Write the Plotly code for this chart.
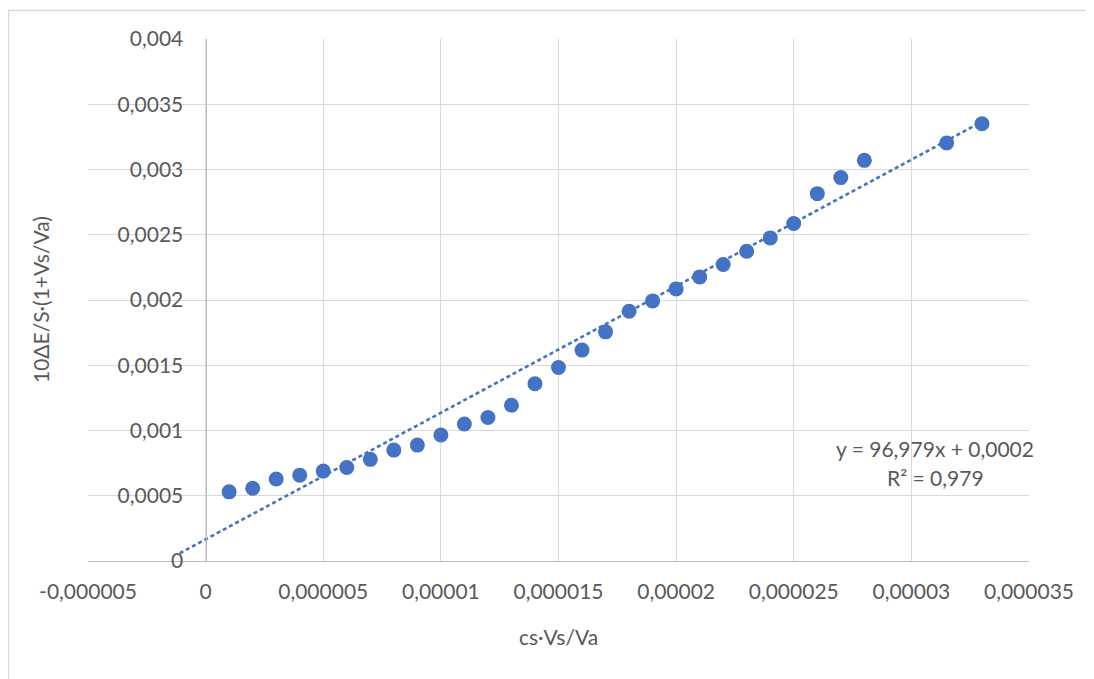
import plotly.graph_objects as go

# ---- data ----
x_vals = [0.000001, 0.000002, 0.000003, 0.000004, 0.000005, 0.000006, 0.000007,
          0.000008, 0.000009, 0.00001, 0.000011, 0.000012, 0.000013, 0.000014,
          0.000015, 0.000016, 0.000017, 0.000018, 0.000019, 0.00002, 0.000021,
          0.000022, 0.000023, 0.000024, 0.000025, 0.000026, 0.000027, 0.000028,
          0.0000315, 0.000033]
y_vals = [0.00053, 0.000557, 0.000628, 0.000658, 0.000689, 0.000717, 0.000779,
          0.00085, 0.000888, 0.000965, 0.00105, 0.0011, 0.001194, 0.001358,
          0.001483, 0.001616, 0.001756, 0.001914, 0.001993, 0.002085, 0.002177,
          0.002272, 0.002374, 0.002476, 0.002586, 0.002815, 0.002938, 0.00307,
          0.003203, 0.003351]

trend_slope = 96.979
trend_intercept = 0.000166
trend_x_range = [-0.0000011, 0.000033]

x_tickvals = [-0.000005, 0, 0.000005, 0.00001, 0.000015, 0.00002, 0.000025, 0.00003, 0.000035]
x_ticktext = ["-0,000005", "0", "0,000005", "0,00001", "0,000015", "0,00002",
              "0,000025", "0,00003", "0,000035"]
y_tickvals = [0, 0.0005, 0.001, 0.0015, 0.002, 0.0025, 0.003, 0.0035, 0.004]
y_ticktext = ["0", "0,0005", "0,001", "0,0015", "0,002", "0,0025", "0,003", "0,0035", "0,004"]

x_title = "cs·Vs/Va"
y_title = "10ΔE/S·(1+Vs/Va)"
eq_text = "y = 96,979x + 0,0002"
r2_text = "R² = 0,979"

# ---- layout geometry (page body has an 8px margin) ----
OFF = 8
W, H = 1094 - OFF, 679 - OFF
ML, MT = 88 - OFF, 39 - OFF
PW, PH = 941, 522
MR, MB = W - ML - PW, H - MT - PH


def px_x(px):
    return (px - OFF - ML) / PW


def px_y(py):
    return (MT + PH - (py - OFF)) / PH


BLUE = "#4472C4"
TXT = "#595959"
GRID = "#D9D9D9"
FONT = "Lato"
FS = 21

trend_y = [trend_slope * xv + trend_intercept for xv in trend_x_range]

fig = go.Figure()
fig.add_trace(go.Scatter(
    x=trend_x_range, y=trend_y, mode="lines",
    line=dict(color=BLUE, width=2.6, dash="4px,3px"),
    hoverinfo="skip", showlegend=False))
fig.add_trace(go.Scatter(
    x=x_vals, y=y_vals, mode="markers",
    marker=dict(color=BLUE, size=15, line=dict(width=0)),
    showlegend=False))

xr = [x_tickvals[0], x_tickvals[-1]]
zero_pos = (0 - xr[0]) / (xr[1] - xr[0])

fig.update_layout(
    width=W, height=H,
    margin=dict(l=ML, r=MR, t=MT, b=MB, pad=0),
    paper_bgcolor="white", plot_bgcolor="white",
    font=dict(family=FONT, size=FS, color=TXT),
    xaxis=dict(range=xr, tickmode="array", tickvals=x_tickvals, ticktext=x_ticktext,
               showgrid=True, gridcolor=GRID, gridwidth=1.3,
               zeroline=False, showline=True, linecolor="#BFBFBF", linewidth=1.3,
               ticks="outside", ticklen=12, tickcolor="rgba(0,0,0,0)",
               tickfont=dict(family=FONT, size=FS, color=TXT)),
    yaxis=dict(range=[y_tickvals[0], y_tickvals[-1]], tickmode="array",
               tickvals=y_tickvals, ticktext=y_ticktext,
               anchor="free", position=zero_pos,
               showgrid=True, gridcolor=GRID, gridwidth=1.3,
               zeroline=False, showline=True, linecolor="#BFBFBF", linewidth=1.3,
               ticks="outside", ticklen=18, tickcolor="rgba(0,0,0,0)",
               tickfont=dict(family=FONT, size=FS, color=TXT)),
    shapes=[dict(type="rect", xref="paper", yref="paper",
                 x0=px_x(8.5), x1=px_x(1110), y0=px_y(700), y1=px_y(10.5),
                 line=dict(color=GRID, width=1.3), fillcolor="rgba(0,0,0,0)",
                 layer="below")],
    annotations=[
        dict(text=y_title, xref="paper", yref="paper", x=px_x(40), y=px_y(300),
             textangle=-90, showarrow=False, xanchor="center", yanchor="middle",
             font=dict(family=FONT, size=FS, color=TXT)),
        dict(text=x_title, xref="paper", yref="paper", x=px_x(558), y=px_y(636),
             showarrow=False, xanchor="center", yanchor="middle",
             font=dict(family=FONT, size=FS, color=TXT)),
        dict(text=eq_text, xref="paper", yref="paper", x=px_x(935), y=px_y(448),
             showarrow=False, xanchor="center", yanchor="middle",
             font=dict(family=FONT, size=FS, color=TXT)),
        dict(text=r2_text, xref="paper", yref="paper", x=px_x(935), y=px_y(477),
             showarrow=False, xanchor="center", yanchor="middle",
             font=dict(family=FONT, size=FS, color=TXT)),
    ],
)

fig.write_html("out.html")
